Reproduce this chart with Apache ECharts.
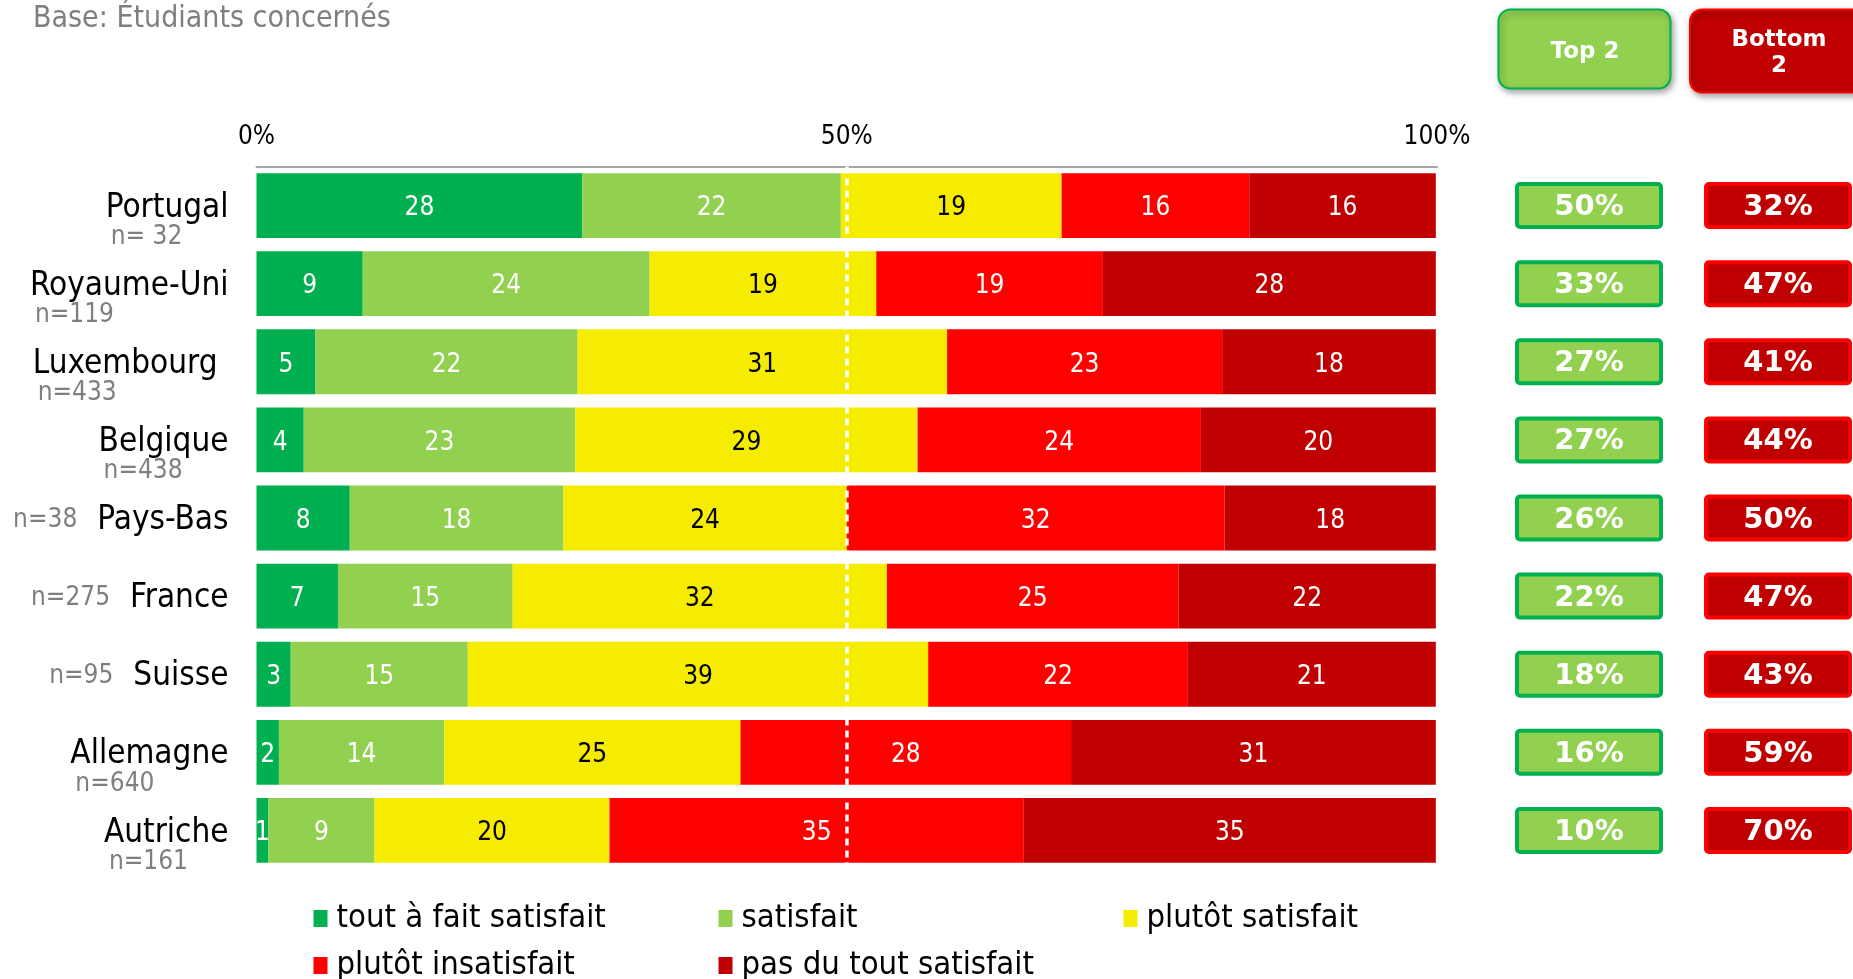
<!DOCTYPE html>
<html><head><meta charset="utf-8">
<script src="https://cdn.jsdelivr.net/npm/echarts@6/dist/echarts.min.js"></script>
<style>html,body{margin:0;padding:0;background:#fff}#c{width:1853px;height:979px}</style>
</head><body><div id="c"></div>
<script>
const countries = ['Portugal','Royaume-Uni','Luxembourg','Belgique','Pays-Bas','France','Suisse','Allemagne','Autriche'];
const sampleSizes = ['n= 32','n=119','n=433','n=438','n=38','n=275','n=95','n=640','n=161'];
const inlineSample = [false,false,false,false,true,true,true,false,false];
const seriesNames = ['tout à fait satisfait','satisfait','plutôt satisfait','plutôt insatisfait','pas du tout satisfait'];
const seriesColors = ['#00b050','#92d050','#f5ec00','#ff0000','#c00000'];
const labelColors = ['#ffffff','#ffffff','#000000','#ffffff','#ffffff'];
const toutAFaitSatisfait = [27.6, 9.0, 5.0, 4.0, 7.9, 6.9, 2.9, 1.9, 1.0];
const satisfait          = [21.9, 24.3, 22.2, 23.0, 18.1, 14.8, 15.0, 14.0, 9.0];
const plutotSatisfait    = [18.7, 19.2, 31.3, 29.0, 24.0, 31.7, 39.0, 25.1, 19.9];
const plutotInsatisfait  = [15.9, 19.2, 23.3, 24.0, 32.0, 24.7, 22.0, 28.0, 35.1];
const pasDuToutSatisfait = [15.8, 28.2, 18.1, 19.9, 17.9, 21.8, 21.0, 30.9, 34.9];
const top2 = [50,33,27,27,26,22,18,16,10];
const bottom2 = [32,47,41,44,50,47,43,59,70];
const xTicks = [0,50,100];
const summaryColumns = ['Top 2','Bottom 2'];
const subtitle = 'Base: Étudiants concernés';

const FONT = "'DejaVu Sans Condensed', 'DejaVu Sans', sans-serif";
const values = [toutAFaitSatisfait, satisfait, plutotSatisfait, plutotInsatisfait, pasDuToutSatisfait];

const chart = echarts.init(document.getElementById('c'));

const barSeries = values.map((arr, k) => {
  const s = {
    name: seriesNames[k], type: 'bar', stack: 'total',
    xAxisIndex: 0, yAxisIndex: 0,
    barCategoryGap: '17%',
    data: arr,
    itemStyle: { color: seriesColors[k] },
    label: {
      show: true, position: 'inside', color: labelColors[k], offset: [0, 3],
      fontFamily: FONT, fontSize: 26,
      formatter: p => Math.round(p.value)
    }
  };
  if (k === values.length - 1) {
    s.markLine = {
      silent: true, symbol: ['none','none'], animation: false,
      label: { show: false },
      lineStyle: { color: '#ffffff', type: [7,5], width: 3.5 },
      data: [{ xAxis: xTicks[1] }]
    };
  }
  return s;
});

function summarySeries(col, arr, fill, border) {
  return {
    type: 'custom', xAxisIndex: 1, yAxisIndex: 1,
    data: arr.map((v, i) => [col, countries[i], v]),
    encode: { x: 0, y: 1 },
    renderItem: (params, api) => {
      const c = api.coord([api.value(0), api.value(1)]);
      const w = 144, h = 43;
      return {
        type: 'group',
        children: [
          { type: 'rect', shape: { x: c[0] - w / 2, y: c[1] - h / 2, width: w, height: h, r: 3 },
            style: { fill: fill, stroke: border, lineWidth: 4 } },
          { type: 'text', x: c[0], y: c[1] + 2,
            style: { text: api.value(2) + '%', fill: '#ffffff', font: "bold 29px 'DejaVu Sans'", align: 'center', verticalAlign: 'middle' } }
        ]
      };
    }
  };
}

const option = {
  animation: false,
  backgroundColor: '#ffffff',
  title: {
    text: subtitle, left: 33, top: 4, padding: 0,
    textStyle: { fontFamily: FONT, fontSize: 30, fontWeight: 'normal', color: '#7f7f7f' }
  },
  grid: [
    { left: 256.5, width: 1180.5, top: 166.5, height: 703 },
    { left: 1589, width: 189, top: 166.5, height: 703 }
  ],
  xAxis: [
    {
      type: 'value', gridIndex: 0, position: 'top', min: 0, max: 100, interval: 50,
      axisLine: { show: true, lineStyle: { color: '#a6a6a6', width: 2 } },
      axisTick: { show: false }, splitLine: { show: false },
      axisLabel: { margin: 16, fontFamily: FONT, fontSize: 26, color: '#000', formatter: '{value}%' }
    },
    { type: 'category', gridIndex: 1, data: summaryColumns, boundaryGap: false, show: false }
  ],
  yAxis: [
    {
      type: 'category', gridIndex: 0, inverse: true, data: countries,
      axisLine: { show: false }, axisTick: { show: false },
      axisLabel: {
        interval: 0, margin: 28, padding: [29, 0, 0, 0],
        formatter: (name) => {
          const idx = countries.indexOf(name);
          const nm = name === 'Luxembourg' ? 'nameLux' : 'name';
          if (inlineSample[idx]) return '{ni|' + sampleSizes[idx] + '}{' + nm + '|' + name + '}\n{blank| }';
          return '{' + nm + '|' + name + '}\n{n|' + sampleSizes[idx] + '}';
        },
        rich: {
          name: { fontFamily: FONT, fontSize: 33, color: '#000', lineHeight: 34, align: 'right' },
          nameLux: { fontFamily: FONT, fontSize: 33, color: '#000', lineHeight: 34, align: 'right', padding: [0, 11, 0, 0] },
          n: { fontFamily: FONT, fontSize: 26, color: '#7f7f7f', lineHeight: 24, align: 'left', padding: [0, 0, 0, 5] },
          ni: { fontFamily: FONT, fontSize: 26, color: '#7f7f7f', lineHeight: 34, align: 'left', padding: [0, 20, 0, 0] },
          blank: { fontSize: 10, lineHeight: 24 }
        }
      }
    },
    { type: 'category', gridIndex: 1, inverse: true, data: countries, show: false }
  ],
  legend: [
    [seriesNames[0], seriesNames[3], 313.5],
    [seriesNames[1], seriesNames[4], 718.5],
    [seriesNames[2], null, 1123.5]
  ].map(([a, b, x]) => ({
    data: b ? [a, b] : [a], left: x, top: 900.5, height: 120, orient: 'vertical',
    icon: 'rect', itemWidth: 14, itemHeight: 17, itemGap: 11, padding: 0,
    textStyle: { fontFamily: FONT, fontSize: 32.6, color: '#000', lineHeight: 36, padding: [0, 0, 0, 4] }
  })),
  graphic: [
    { type: 'rect', shape: { x: 1498.5, y: 9.5, width: 172, height: 79, r: 12 },
      style: { fill: '#92d050', stroke: '#00b050', lineWidth: 2, shadowBlur: 6, shadowOffsetX: 2, shadowOffsetY: 3, shadowColor: 'rgba(0,0,0,0.35)' } },
    { type: 'text', x: 1585, y: 52, style: { text: summaryColumns[0], fill: '#fff', font: "bold 23px 'DejaVu Sans'", align: 'center', verticalAlign: 'middle' } },
    { type: 'rect', shape: { x: 1690, y: 9.5, width: 176, height: 83, r: 12 },
      style: { fill: '#c00000', stroke: '#ff0000', lineWidth: 2, shadowBlur: 6, shadowOffsetX: 2, shadowOffsetY: 3, shadowColor: 'rgba(0,0,0,0.35)' } },
    { type: 'text', x: 1779, y: 53, style: { text: 'Bottom\n2', fill: '#fff', font: "bold 23px 'DejaVu Sans'", align: 'center', verticalAlign: 'middle', lineHeight: 26 } }
  ],
  series: barSeries.concat([
    summarySeries(summaryColumns[0], top2, '#92d050', '#00b050'),
    summarySeries(summaryColumns[1], bottom2, '#c00000', '#ff0000')
  ])
};
chart.setOption(option);
</script></body></html>
